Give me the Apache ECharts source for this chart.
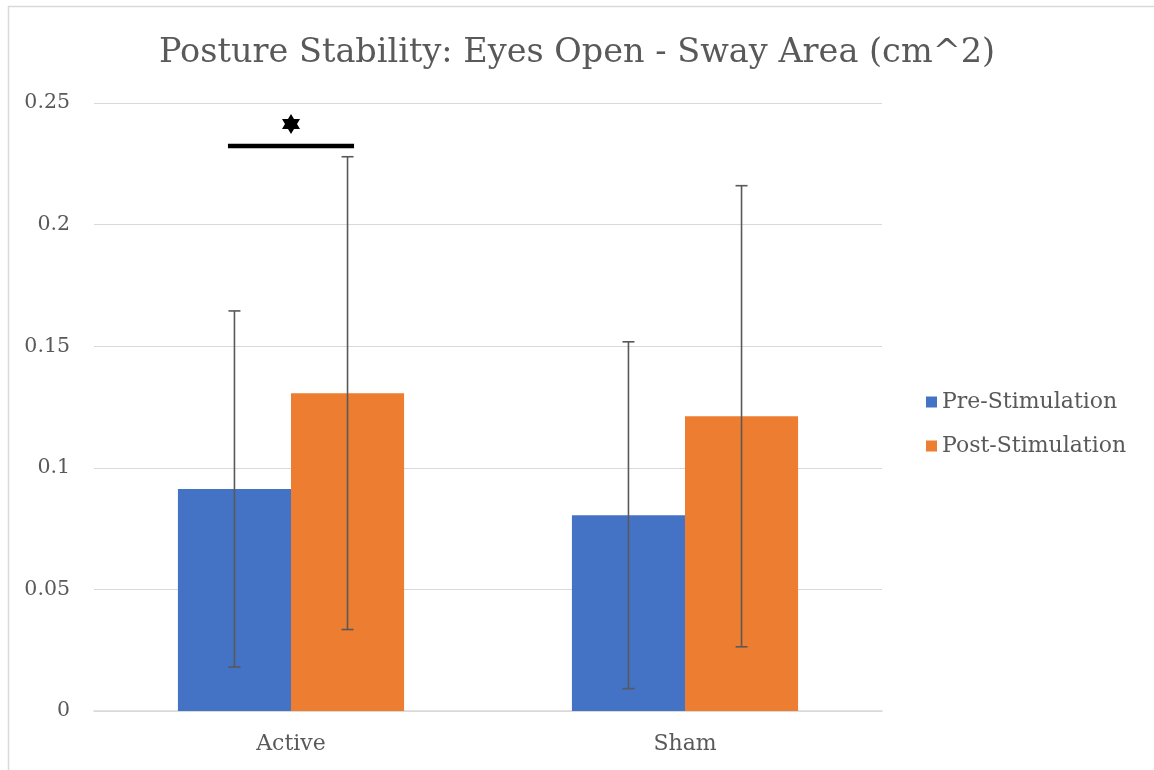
<!DOCTYPE html>
<html><head><meta charset="utf-8">
<script src="https://cdn.jsdelivr.net/npm/echarts@6/dist/echarts.min.js"></script>
<style>html,body{margin:0;padding:0;background:#fff}#c{width:1154px;height:770px}</style>
</head><body><div id="c"></div>
<script>
const categories = ['Active', 'Sham'];
const seriesNames = ['Pre-Stimulation', 'Post-Stimulation'];
const preValues = [0.0913, 0.0805];
const postValues = [0.1307, 0.1212];
const preErrors = [0.0732, 0.0713];
const postErrors = [0.0972, 0.0948];
const yTicks = { min: 0, max: 0.25, interval: 0.05 };
const sigLineY = 0.2323;
const sigStarY = 0.2414;
const sigCategory = 0;

const FONT = 'DejaVu Serif';
const TXT = '#595959';
const colors = ['#4472C4', '#ED7D31'];
const catGap = 0.426;
const HEXAGRAM = 'path://M0,-10L2.887,-5L8.66,-5L5.774,0L8.66,5L2.887,5L0,10L-2.887,5L-8.66,5L-5.774,0L-8.66,-5L-2.887,-5Z';

const chart = echarts.init(document.getElementById('c'), null, {renderer: 'canvas'});

function errorSeries(idx, vals, errs) {
  return {
    type: 'custom', name: seriesNames[idx] + ' err', z: 5, silent: true,
    data: categories.map((c, i) => [i, vals[i], errs[i]]),
    renderItem: function (params, api) {
      const band = api.size([1, 0])[0];
      const bw = band * (1 - catGap) / 2;
      const off = (idx === 0 ? -0.5 : 0.5) * bw;
      const c = api.coord([api.value(0), api.value(1)]);
      const x = c[0] + off;
      const top = api.coord([api.value(0), api.value(1) + api.value(2)])[1];
      const bot = api.coord([api.value(0), api.value(1) - api.value(2)])[1];
      const cap = 6;
      const st = {stroke: TXT, lineWidth: 1.6};
      return {type: 'group', children: [
        {type: 'line', shape: {x1: x, y1: top, x2: x, y2: bot}, style: st},
        {type: 'line', shape: {x1: x - cap, y1: top, x2: x + cap, y2: top}, style: st},
        {type: 'line', shape: {x1: x - cap, y1: bot, x2: x + cap, y2: bot}, style: st}
      ]};
    }
  };
}

chart.setOption({
  backgroundColor: '#fff',
  animation: false,
  title: {
    text: 'Posture Stability: Eyes Open - Sway Area (cm^2)',
    left: 'center', top: 31,
    textStyle: {fontFamily: FONT, fontSize: 33.5, fontWeight: 'normal', color: TXT}
  },
  legend: {
    orient: 'vertical', left: 926, top: 391, padding: 0,
    icon: 'rect',
    itemWidth: 11, itemHeight: 11, itemGap: 22,
    data: seriesNames,
    textStyle: {fontFamily: FONT, fontSize: 22, color: TXT}
  },
  grid: {left: 94, right: 272, top: 103, bottom: 59, containLabel: false},
  xAxis: {
    type: 'category', data: categories,
    axisLine: {lineStyle: {color: '#d9d9d9', width: 1.5}},
    axisTick: {show: false},
    axisLabel: {fontFamily: FONT, fontSize: 22, color: TXT, margin: 22}
  },
  yAxis: {
    type: 'value', min: yTicks.min, max: yTicks.max, interval: yTicks.interval,
    axisLine: {show: false}, axisTick: {show: false},
    splitLine: {lineStyle: {color: '#d9d9d9', width: 1}},
    axisLabel: {fontFamily: FONT, fontSize: 20.5, color: TXT, margin: 24}
  },
  series: [
    {type: 'bar', name: seriesNames[0], data: preValues, itemStyle: {color: colors[0]},
     barGap: '0%', barCategoryGap: (catGap * 100) + '%'},
    {type: 'bar', name: seriesNames[1], data: postValues, itemStyle: {color: colors[1]},
     barGap: '0%', barCategoryGap: (catGap * 100) + '%'},
    errorSeries(0, preValues, preErrors),
    errorSeries(1, postValues, postErrors),
    {
      type: 'custom', silent: true, z: 6,
      data: [[sigCategory, sigLineY]],
      renderItem: function (params, api) {
        const band = api.size([1, 0])[0];
        const c = api.coord([api.value(0), api.value(1)]);
        const half = band * 0.16;
        return {type: 'line', shape: {x1: c[0] - half, y1: c[1], x2: c[0] + half, y2: c[1]},
                style: {stroke: '#000', lineWidth: 4.5}};
      }
    },
    {
      type: 'scatter', silent: true, z: 7,
      data: [[sigCategory, sigStarY]],
      symbol: HEXAGRAM,
      symbolSize: [18, 20],
      itemStyle: {color: '#000', opacity: 1}
    }
  ],
  graphic: [{
    type: 'rect', left: 6, top: 4, shape: {width: 1150, height: 770},
    style: {fill: 'none', stroke: '#d9d9d9', lineWidth: 1.5}, silent: true, z: -1
  }]
});
</script></body></html>
